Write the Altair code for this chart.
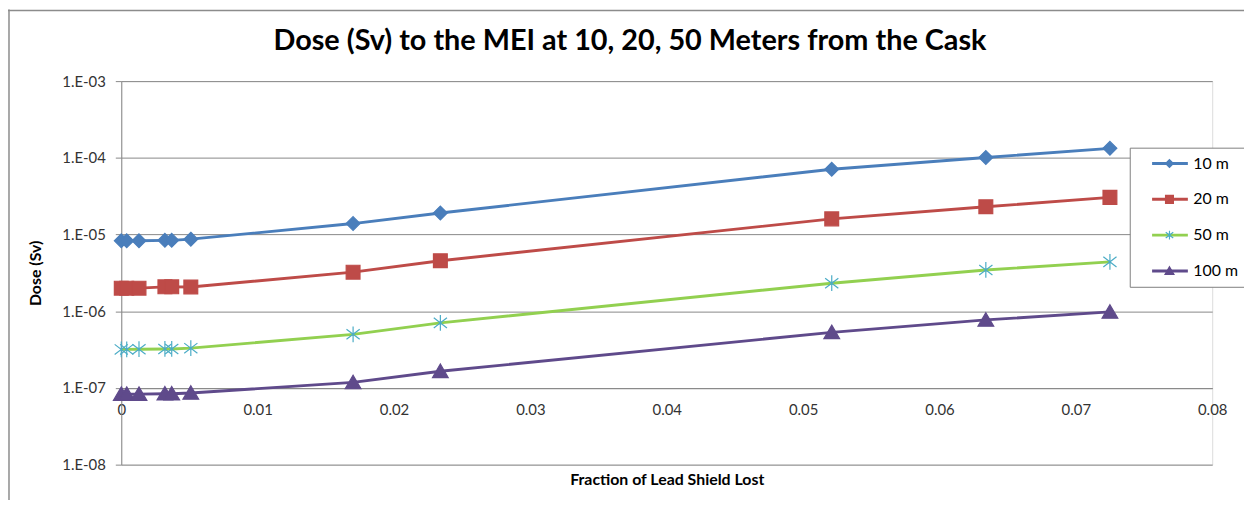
import altair as alt
import pandas as pd

fraction = [0, 0.0004, 0.0013, 0.0032, 0.0037, 0.0051, 0.0170, 0.0234, 0.0521, 0.0634, 0.0725]
dose_10m = [8.3e-6, 8.3e-6, 8.3e-6, 8.4e-6, 8.4e-6, 8.7e-6, 1.39e-5, 1.91e-5, 7.1e-5, 1.01e-4, 1.33e-4]
dose_20m = [2.0e-6, 2.0e-6, 2.0e-6, 2.08e-6, 2.08e-6, 2.07e-6, 3.23e-6, 4.55e-6, 1.6e-5, 2.3e-5, 3.05e-5]
dose_50m = [3.18e-7, 3.18e-7, 3.2e-7, 3.22e-7, 3.22e-7, 3.3e-7, 5.0e-7, 7.05e-7, 2.32e-6, 3.45e-6, 4.4e-6]
dose_100m = [8.3e-8, 8.3e-8, 8.3e-8, 8.4e-8, 8.4e-8, 8.6e-8, 1.18e-7, 1.65e-7, 5.3e-7, 7.7e-7, 9.8e-7]

series_names = ["10 m", "20 m", "50 m", "100 m"]
line_colors = ["#4A7EBB", "#BE4B48", "#92D050", "#5F4A8B"]
marker_colors = ["#4A7EBB", "#BE4B48", "#4BACC6", "#5F4A8B"]
marker_paths = [
    "M0,-0.22L0.22,0L0,0.22L-0.22,0Z",
    "M-0.22,-0.22H0.22V0.22H-0.22Z",
    "M0,-0.25V0.25M-0.21,-0.16L0.21,0.16M-0.21,0.16L0.21,-0.16",
    "M0,-0.23L0.25,0.2L-0.25,0.2Z",
]
x_ticks = [0, 0.01, 0.02, 0.03, 0.04, 0.05, 0.06, 0.07, 0.08]
y_ticks = [1e-8, 1e-7, 1e-6, 1e-5, 1e-4, 1e-3]

rows = []
for name, vals in zip(series_names, [dose_10m, dose_20m, dose_50m, dose_100m]):
    for xv, yv in zip(fraction, vals):
        rows.append({"fraction": xv, "dose": yv, "series": name, "marker": name})
df = pd.DataFrame(rows)

FONT = "Lato"
x_enc = alt.X(
    "fraction:Q",
    scale=alt.Scale(domain=[0, 0.08], nice=False, zero=False),
    axis=alt.Axis(
        values=x_ticks,
        labelExpr="datum.value == 0 ? '0' : format(datum.value, '.2f')",
        title="Fraction of Lead Shield Lost",
        offset=-77,
        grid=False,
        ticks=False,
        labelFlush=False,
        domainColor="#888888",
        labelPadding=15,
        labelFontSize=15,
        labelColor="#333333",
        labelFont=FONT,
        titleFont=FONT,
        titleFontSize=16,
        titleFontWeight="bold",
        titleColor="black",
        titleY=92,
        titleBaseline="middle",
    ),
)
y_enc = alt.Y(
    "dose:Q",
    scale=alt.Scale(type="log", domain=[1e-8, 1e-3], nice=False),
    axis=alt.Axis(
        values=y_ticks,
        labelExpr="'1.E-0' + format(-round(log(datum.value) / LN10), 'd')",
        title="Dose (Sv)",
        grid=True,
        labelFlush=False,
        gridColor="#878787",
        domainColor="#888888",
        tickColor="#888888",
        tickSize=6,
        labelPadding=10,
        labelFontSize=15,
        labelColor="#333333",
        labelFont=FONT,
        titleFont=FONT,
        titleFontSize=16,
        titleFontWeight="bold",
        titleColor="black",
        titleX=-86,
        titleY=193,
        titleBaseline="middle",
        titleAlign="center",
    ),
)

legend_common = dict(
    orient="none",
    legendX=1015,
    legendY=67,
    title=None,
    symbolSize=1296,
    padding=6,
    rowPadding=16,
    clipHeight=20,
    symbolOffset=15,
    labelOffset=4,
    labelFont=FONT,
    labelFontSize=16,
    labelExpr="datum.label + '    '",
)

# line layer: data-driven domain (kept distinct from the marker scales so the legends stay separate)
lines = alt.Chart(df).mark_line(strokeWidth=2.9).encode(
    x=x_enc,
    y=y_enc,
    color=alt.Color(
        "series:N",
        sort=series_names,
        scale=alt.Scale(range=line_colors),
        legend=alt.Legend(
            symbolType="stroke",
            symbolStrokeWidth=3,
            fillColor="white",
            strokeColor="#7f7f7f",
            labelColor="black",
            **legend_common,
        ),
    ),
    detail="series:N",
)

marker_legend = alt.Legend(symbolStrokeWidth=1.2, labelColor="transparent", **legend_common)
points = alt.Chart(df).mark_point(filled=True, size=4000, strokeWidth=1.2, opacity=1).encode(
    x="fraction:Q",
    y="dose:Q",
    shape=alt.Shape("marker:N", sort=series_names,
                    scale=alt.Scale(domain=series_names, range=marker_paths), legend=marker_legend),
    fill=alt.Fill("marker:N", sort=series_names,
                  scale=alt.Scale(domain=series_names, range=marker_colors), legend=marker_legend),
    stroke=alt.Stroke("marker:N", sort=series_names,
                      scale=alt.Scale(domain=series_names, range=marker_colors), legend=marker_legend),
)

frame_df = pd.DataFrame({"k": [0]})
border_top = alt.Chart(frame_df).mark_rule(color="#8c8c8c", strokeWidth=1.5).encode(
    x=alt.value(-114), x2=alt.value(1130), y=alt.value(-71)
)
border_left = alt.Chart(frame_df).mark_rule(color="#8c8c8c", strokeWidth=1.5).encode(
    x=alt.value(-113), y=alt.value(-72), y2=alt.value(430)
)

chart = alt.layer(lines, points, border_top, border_left).properties(
    width=1098,
    height=386,
    autosize=alt.AutoSizeParams(type="none"),
    padding={"left": 114, "top": 72, "right": 32, "bottom": 34},
    title=alt.TitleParams(
        "Dose (Sv) to the MEI at 10, 20, 50 Meters from the Cask",
        font=FONT,
        fontSize=29,
        fontWeight="bold",
        color="black",
        anchor="middle",
        frame="group",
        dx=-37,
        offset=-70,
        baseline="alphabetic",
    ),
).configure_view(stroke=None).configure(background="white")

chart.save("out.html", embed_options={"renderer": "svg", "actions": False})
